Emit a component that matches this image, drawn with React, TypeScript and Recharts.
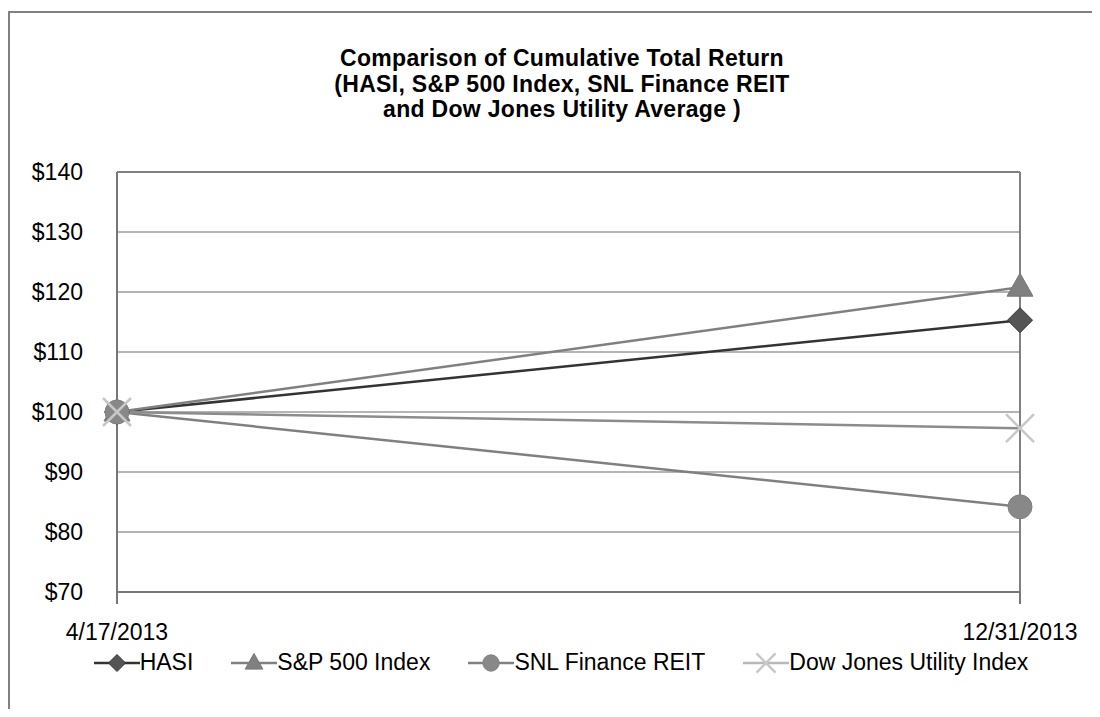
import {
  CartesianGrid,
  Legend,
  Line,
  LineChart,
  ReferenceLine,
  XAxis,
  YAxis,
} from "recharts";

const dates = ["4/17/2013", "12/31/2013"];
const hasi = [100, 115.3];
const sp500 = [100, 120.8];
const snlReit = [100, 84.2];
const dowJones = [100, 97.3];
const yTicks = [70, 80, 90, 100, 110, 120, 130, 140];

const seriesNames = {
  hasi: "HASI",
  sp500: "S&P 500 Index",
  snlReit: "SNL Finance REIT",
  dowJones: "Dow Jones Utility Index",
};
const legendOrder = ["hasi", "sp500", "snlReit", "dowJones"];

const data = dates.map((date, i) => ({
  date,
  hasi: hasi[i],
  sp500: sp500[i],
  snlReit: snlReit[i],
  dowJones: dowJones[i],
}));

const FONT = '"Liberation Sans", Arial, sans-serif';

type MarkerKind = "diamond" | "triangle" | "circle" | "cross";

function Marker({ kind, cx, cy, s = 1 }: { kind: MarkerKind; cx: number; cy: number; s?: number }) {
  if (kind === "diamond") {
    const r = 12.5 * s;
    return (
      <polygon
        points={`${cx},${cy - r} ${cx + r},${cy} ${cx},${cy + r} ${cx - r},${cy}`}
        fill="#555"
        stroke="#333"
        strokeWidth={1}
      />
    );
  }
  if (kind === "triangle") {
    const w = 13 * s;
    return (
      <polygon
        points={`${cx},${cy - 14 * s} ${cx + w},${cy + 9 * s} ${cx - w},${cy + 9 * s}`}
        fill="#808080"
        stroke="#777"
        strokeWidth={1}
      />
    );
  }
  if (kind === "circle") {
    return <circle cx={cx} cy={cy} r={12 * s} fill="#888" stroke="#808080" />;
  }
  const r = 14 * s;
  return (
    <g stroke="#c8c8c8" strokeWidth={2.5}>
      <line x1={cx - r} y1={cy - r} x2={cx + r} y2={cy + r} />
      <line x1={cx - r} y1={cy + r} x2={cx + r} y2={cy - r} />
    </g>
  );
}

const dotFor = (kind: MarkerKind) => (props: any) => {
  const { cx, cy, index } = props;
  if (cx == null || cy == null) return <g key={index} />;
  return <Marker key={index} kind={kind} cx={cx} cy={cy} />;
};

const legendKinds: Record<string, MarkerKind> = {
  hasi: "diamond",
  sp500: "triangle",
  snlReit: "circle",
  dowJones: "cross",
};
const legendColors: Record<string, string> = {
  hasi: "#333",
  sp500: "#808080",
  snlReit: "#808080",
  dowJones: "#b8b8b8",
};

function LegendRow({ payload }: any) {
  const items = [...(payload || [])].sort(
    (a: any, b: any) => legendOrder.indexOf(a.dataKey) - legendOrder.indexOf(b.dataKey)
  );
  return (
    <div
      style={{
        display: "flex",
        justifyContent: "center",
        gap: 38,
        fontFamily: FONT,
        fontSize: 23,
        color: "#000",
        paddingLeft: 22,
      }}
    >
      {items.map((entry: any) => (
        <div key={entry.dataKey} style={{ display: "flex", alignItems: "center" }}>
          <svg width={46} height={26}>
            <line x1={0} y1={13} x2={46} y2={13} stroke={legendColors[entry.dataKey]} strokeWidth={2.5} />
            <Marker kind={legendKinds[entry.dataKey]} cx={23} cy={13} s={0.68} />
          </svg>
          <span>{entry.value}</span>
        </div>
      ))}
    </div>
  );
}

export default function App() {
  return (
    <div
      style={{
        position: "relative",
        margin: -8,
        width: 1100,
        height: 717,
        overflow: "hidden",
        background: "#fff",
      }}
    >
      <div
        style={{
          position: "absolute",
          left: 8,
          top: 11,
          width: 1120,
          height: 740,
          border: "2px solid #808080",
        }}
      />
      <div
        style={{
          position: "absolute",
          left: 0,
          top: 46,
          width: 1124,
          textAlign: "center",
          fontFamily: FONT,
          fontWeight: "bold",
          fontSize: 23,
          lineHeight: "25.5px",
          letterSpacing: 0.3,
          color: "#000",
        }}
      >
        Comparison of Cumulative Total Return
        <br />
        (HASI, S&amp;P 500 Index, SNL Finance REIT
        <br />
        and Dow Jones Utility Average )
      </div>
      <div style={{ position: "absolute", left: 0, top: 0 }}>
        <LineChart
          width={1100}
          height={717}
          data={data}
          margin={{ top: 172, right: 80, left: 20, bottom: 38 }}
        >
          <CartesianGrid stroke="#b4b4b4" strokeWidth={2} vertical={false} />
          <ReferenceLine y={140} stroke="#808080" strokeWidth={2} />
          <ReferenceLine x="12/31/2013" stroke="#808080" strokeWidth={2} />
          <XAxis
            dataKey="date"
            stroke="#777"
            strokeWidth={2}
            tickSize={12}
            tickMargin={20}
            height={60}
            tick={{ fill: "#000", fontSize: 23, fontFamily: FONT }}
          />
          <YAxis
            domain={[70, 140]}
            ticks={yTicks}
            width={97}
            stroke="#777"
            strokeWidth={2}
            tickLine={false}
            tickSize={0}
            tickMargin={34}
            tickFormatter={(v) => `$${v}`}
            tick={{ fill: "#000", fontSize: 23, fontFamily: FONT }}
          />
          <Legend
            layout="vertical"
            align="center"
            verticalAlign="bottom"
            wrapperStyle={{ left: 0, top: 649, width: 1100 }}
            content={<LegendRow />}
          />
          <Line
            name={seriesNames.hasi}
            dataKey="hasi"
            stroke="#333"
            strokeWidth={2.5}
            dot={dotFor("diamond")}
            activeDot={false}
            isAnimationActive={false}
          />
          <Line
            name={seriesNames.sp500}
            dataKey="sp500"
            stroke="#808080"
            strokeWidth={2.5}
            dot={dotFor("triangle")}
            activeDot={false}
            isAnimationActive={false}
          />
          <Line
            name={seriesNames.snlReit}
            dataKey="snlReit"
            stroke="#808080"
            strokeWidth={2.5}
            dot={dotFor("circle")}
            activeDot={false}
            isAnimationActive={false}
          />
          <Line
            name={seriesNames.dowJones}
            dataKey="dowJones"
            stroke="#8c8c8c"
            strokeWidth={2.5}
            dot={dotFor("cross")}
            activeDot={false}
            isAnimationActive={false}
          />
        </LineChart>
      </div>
    </div>
  );
}
